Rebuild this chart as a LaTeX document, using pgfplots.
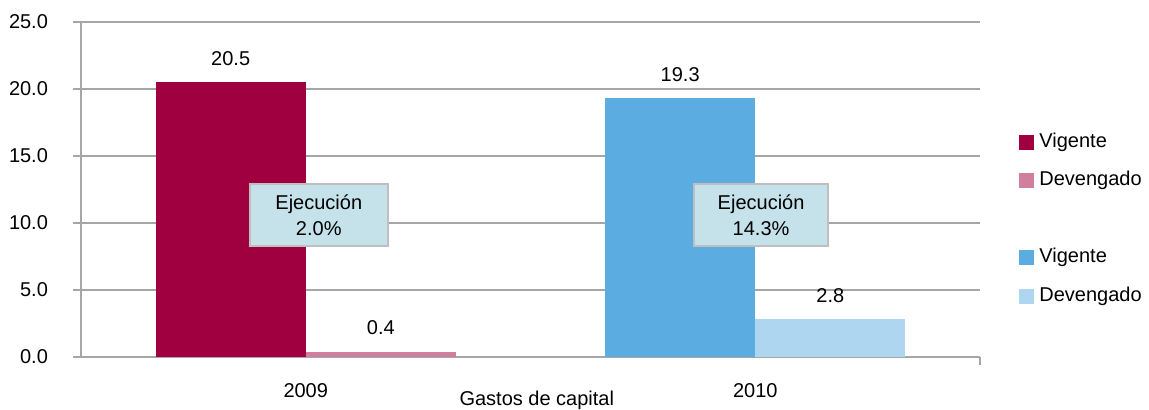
\documentclass[border=0pt]{standalone}
\usepackage{fontspec}
\setmainfont{Liberation Sans}
\usepackage{pgfplots}
\pgfplotsset{compat=1.18}
\definecolor{crim}{HTML}{A0003F}
\definecolor{pinkc}{HTML}{D17F9E}
\definecolor{bluec}{HTML}{5BACE0}
\definecolor{lblue}{HTML}{AED6F0}
\definecolor{boxfill}{HTML}{C5E1EA}
\definecolor{boxdraw}{HTML}{BFBFBF}
\definecolor{gridgray}{HTML}{A6A6A6}
\pgfplotsset{sqlegend/.style={legend image code/.code={\fill[##1] (0pt,-3.75pt) rectangle (7.5pt,3.75pt);}},
  barlbl/.style={nodes near coords={\pgfmathprintnumber[fixed,fixed zerofill,precision=1]{\pgfplotspointmeta}},
  every node near coord/.append style={yshift=5pt, text=black}}}
\begin{document}
\fontsize{10}{12.8}\selectfont
\begin{tikzpicture}
\useasboundingbox (-40.5pt,-26pt) rectangle (534pt,178.5pt);
\begin{axis}[
  at={(0,0)}, anchor=south west,
  scale only axis, width=449.5pt, height=167.5pt,
  xmin=-0.5, xmax=1.5, ymin=0, ymax=25,
  ytick={0,5,...,25},
  xtick={0,1}, xticklabels={2009,2010},
  /pgf/number format/assume math mode=true,
  y tick label style={/pgf/number format/.cd,fixed,fixed zerofill,precision=1,/tikz/.cd, xshift=-9pt},
  x tick label style={yshift=-5.5pt},
  axis x line*=bottom, axis y line*=left,
  axis line style={draw=gridgray, line width=0.6pt},
  ymajorgrids, grid style={draw=gridgray, line width=0.6pt},
  major tick length=4pt, tick align=outside,
  y tick style={draw=gridgray, line width=0.6pt},
  x tick style={draw=none},
  extra x ticks={1.5}, extra x tick labels={},
  extra x tick style={x tick style={draw=gridgray, line width=0.6pt}},
  xlabel={Gastos de capital},
  xlabel style={at={(axis description cs:0.507,0)}, anchor=north, yshift=-13.3pt},
  legend style={at={(axis description cs:1,0.411)}, anchor=west, xshift=19.5pt,
    draw=none, fill=none, inner sep=0pt, row sep=7.2pt,
    nodes={inner sep=1.5pt, text height=7pt, text depth=2pt}},
  legend cell align=left,
  clip=false,
]
\addplot[ybar, bar width=0.334, bar shift=0, fill=crim, draw=none, sqlegend, barlbl]
  coordinates {(-0.167,20.5)};
\addlegendentry{\hspace{1pt}Vigente}
\addplot[ybar, bar width=0.334, bar shift=0, fill=pinkc, draw=none, sqlegend, barlbl]
  coordinates {(0.167,0.4)};
\addlegendentry{\hspace{1pt}Devengado}
\addlegendimage{empty legend}
\addlegendentry{\strut}
\addplot[ybar, bar width=0.334, bar shift=0, fill=bluec, draw=none, sqlegend, barlbl]
  coordinates {(0.833,19.3)};
\addlegendentry{\hspace{1pt}Vigente}
\addplot[ybar, bar width=0.334, bar shift=0, fill=lblue, draw=none, sqlegend, barlbl]
  coordinates {(1.167,2.8)};
\addlegendentry{\hspace{1pt}Devengado}
\node[fill=boxfill, draw=boxdraw, line width=1pt, minimum width=69pt, minimum height=31pt, align=center, inner sep=1pt]
  at (axis cs:0.029,10.6) {Ejecución\\2.0\%};
\node[fill=boxfill, draw=boxdraw, line width=1pt, minimum width=67pt, minimum height=31pt, align=center, inner sep=1pt]
  at (axis cs:1.013,10.6) {Ejecución\\14.3\%};
\end{axis}
\end{tikzpicture}
\end{document}
